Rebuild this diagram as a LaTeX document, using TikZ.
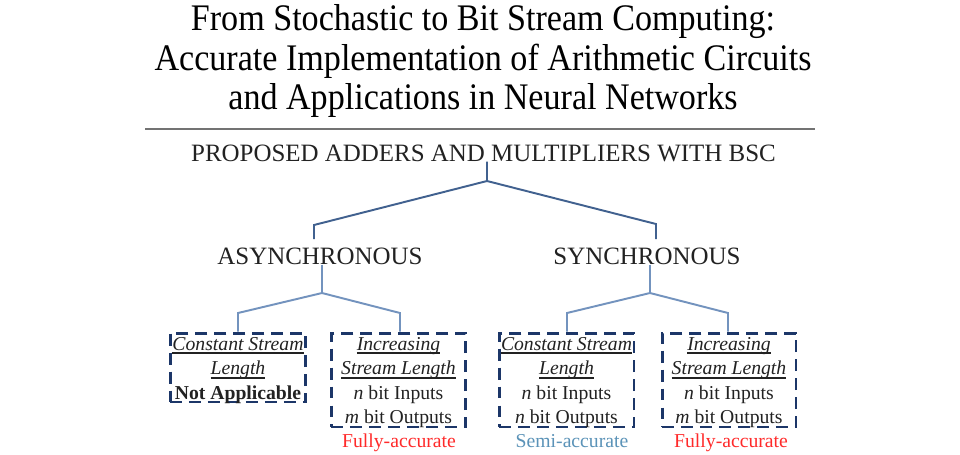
\documentclass[tikz,border=0pt]{standalone}
\usepackage{fontspec}
\setmainfont{Liberation Serif}
\newcommand\myul[1]{\setbox0\hbox{#1}\leavevmode\rlap{\vrule height -1.3pt depth 2.4pt width \wd0}\box0}
\newcommand\tallt[1]{\scalebox{1}[1.1]{#1}}
\definecolor{treeA}{HTML}{41618F}
\definecolor{treeB}{HTML}{7393BE}
\definecolor{boxblue}{HTML}{1C3668}
\definecolor{accred}{HTML}{FF2A2A}
\definecolor{semiblue}{HTML}{5B93B8}
\definecolor{txt}{HTML}{222222}
\tikzset{
  ttl/.style={font=\fontsize{19.4}{22}\selectfont, inner sep=0pt, anchor=base, text=black},
  hdr/.style={font=\fontsize{14.2}{17}\selectfont, inner sep=0pt, anchor=base, text=txt},
  lnt/.style={font=\fontsize{11.2}{13.6}\selectfont, inner sep=0pt, anchor=base, text=txt},
  bx/.style={draw=boxblue, line width=1.7pt, dash pattern=on 6.8pt off 4pt, inner sep=0pt},
  treeone/.style={draw=treeA, line width=1.1pt},
  treetwo/.style={draw=treeB, line width=1.1pt},
  rulel/.style={draw=black!55, line width=1.1pt}
}
\begin{document}
\begin{tikzpicture}[x=0.02cm, y=-0.02cm]
\fill[white] (0,0) rectangle (960,454);
\useasboundingbox (0,0) rectangle (960,454);
% title
\node[ttl] (t1) at (483,30.5) {\tallt{From Stochastic to Bit Stream Computing:}};
\node[ttl] (t2) at (483,70) {\tallt{Accurate Implementation of Arithmetic Circuits}};
\node[ttl] (t3) at (483,109.5) {\tallt{and Applications in Neural Networks}};
\coordinate (rl) at (145,129);
\coordinate (rr) at (815,129);
\draw[rulel] (rl) -- (rr);
% headers
\node[hdr] (root) at (483.5,161) {PROPOSED ADDERS AND MULTIPLIERS WITH BSC};
\node[hdr] (async) at (320,264) {ASYNCHRONOUS};
\node[hdr] (sync) at (647,264) {SYNCHRONOUS};
% boxes
\node[bx, minimum width=2.72cm, minimum height=1.38cm] (b1) at (238,367.5) {};
\node[bx, minimum width=2.70cm, minimum height=1.88cm] (b2) at (398.5,380) {};
\node[bx, minimum width=2.70cm, minimum height=1.88cm] (b3) at (566.5,380) {};
\node[bx, minimum width=2.68cm, minimum height=1.88cm] (b4) at (729,380) {};
% tree level 1
\coordinate (j0) at (487,181);
\coordinate (ja) at (314,225);
\coordinate (jae) at (314,239);
\coordinate (js) at (656,224);
\coordinate (jse) at (656,239);
\draw[treeone] (j0 |- root.south) -- (j0) -- (ja) -- (jae);
\draw[treeone] (j0) -- (js) -- (jse);
% tree level 2
\coordinate (ka) at (322,293);
\coordinate (ka1) at (238,313);
\coordinate (ka2) at (400,313);
\draw[treetwo] (ka |- async.south) -- (ka);
\draw[treetwo] (ka) -- (ka1) -- (ka1 |- b1.north);
\draw[treetwo] (ka) -- (ka2) -- (ka2 |- b2.north);
\coordinate (ks) at (650,293);
\coordinate (ks1) at (567,313);
\coordinate (ks2) at (728,313);
\draw[treetwo] (ks |- sync.south) -- (ks);
\draw[treetwo] (ks) -- (ks1) -- (ks1 |- b3.north);
\draw[treetwo] (ks) -- (ks2) -- (ks2 |- b4.north);
% box texts
\node[lnt] (b1a) at (238,350) {\myul{\textit{Constant Stream}}};
\node[lnt] (b1b) at (238,374.5) {\myul{\textit{Length}}};
\node[lnt] (b1c) at (238,399) {\textbf{Not Applicable}};
\node[lnt] (b2a) at (398.5,350) {\myul{\textit{Increasing}}};
\node[lnt] (b2b) at (398.5,374.5) {\myul{\textit{Stream Length}}};
\node[lnt] (b2c) at (398.5,399) {\textit{n} bit Inputs};
\node[lnt] (b2d) at (398.5,423.5) {\textit{m} bit Outputs};
\node[lnt] (b3a) at (566.5,350) {\myul{\textit{Constant Stream}}};
\node[lnt] (b3b) at (566.5,374.5) {\myul{\textit{Length}}};
\node[lnt] (b3c) at (566.5,399) {\textit{n} bit Inputs};
\node[lnt] (b3d) at (566.5,423.5) {\textit{n} bit Outputs};
\node[lnt] (b4a) at (729,350) {\myul{\textit{Increasing}}};
\node[lnt] (b4b) at (729,374.5) {\myul{\textit{Stream Length}}};
\node[lnt] (b4c) at (729,399) {\textit{n} bit Inputs};
\node[lnt] (b4d) at (729,423.5) {\textit{m} bit Outputs};
% accuracy labels
\node[lnt, text=accred] (acc2) at (399,447) {Fully-accurate};
\node[lnt, text=semiblue] (acc3) at (572,447) {Semi-accurate};
\node[lnt, text=accred] (acc4) at (731,447) {Fully-accurate};
\end{tikzpicture}
\end{document}
